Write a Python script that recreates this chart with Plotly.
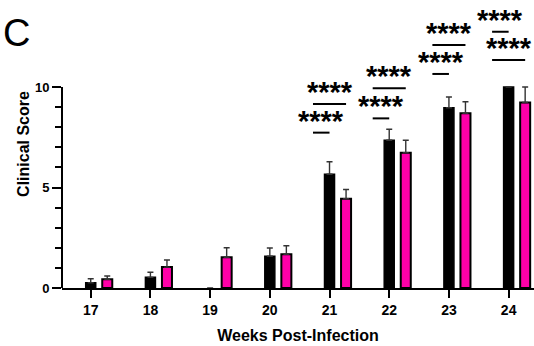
import plotly.graph_objects as go

weeks = [17, 18, 19, 20, 21, 22, 23, 24]
control_mean = [0, 0, 0, 0, 0, 0, 0, 0]
black_mean = [0.26, 0.53, 0.0, 1.58, 5.66, 7.35, 8.97, 10.0]
black_err_top = [0.46, 0.78, 0.0, 1.99, 6.28, 7.90, 9.50, 10.0]
pink_mean = [0.43, 1.04, 1.53, 1.68, 4.44, 6.73, 8.69, 9.23]
pink_err_top = [0.60, 1.39, 2.00, 2.10, 4.90, 7.35, 9.27, 10.0]

black_err = [(t - m) if t - m > 0 else None for t, m in zip(black_err_top, black_mean)]
pink_err = [(t - m) if t - m > 0 else None for t, m in zip(pink_err_top, pink_mean)]

# significance comparisons: (week, compared group, bracket level)
sig_weeks = [21, 21, 22, 22, 23, 23, 24, 24]
sig_target = ["black", "pink", "black", "pink", "black", "pink", "black", "pink"]
sig_level = [7.73, 9.15, 8.44, 9.94, 10.65, 12.09, 12.75, 11.34]
sig_label = "****"

y_ticks = [0, 5, 10]
y_minor = [1, 2, 3, 4, 6, 7, 8, 9]

GROUP_STEP = 0.277  # spacing between group centers in x units

fig = go.Figure()
fig.add_trace(go.Bar(x=weeks, y=control_mean, name="Control",
                     marker=dict(color="white", line=dict(width=0)),
                     showlegend=False))
fig.add_trace(go.Bar(x=weeks, y=black_mean, name="Group 1",
                     marker=dict(color="black",
                                 line=dict(color="black",
                                           width=[1.5 if v > 0 else 0 for v in black_mean])),
                     error_y=dict(type="data", symmetric=False, array=black_err,
                                  arrayminus=[0] * len(weeks), color="#333333",
                                  thickness=1.4, width=3),
                     cliponaxis=False, showlegend=False))
fig.add_trace(go.Bar(x=weeks, y=pink_mean, name="Group 2",
                     marker=dict(color="#ff00a8",
                                 line=dict(color="black",
                                           width=[2 if v > 0 else 0 for v in pink_mean])),
                     error_y=dict(type="data", symmetric=False, array=pink_err,
                                  arrayminus=[0] * len(weeks), color="#333333",
                                  thickness=1.4, width=3),
                     cliponaxis=False, showlegend=False))

shapes = []
annotations = []
# y axis line from 0 to 10
shapes.append(dict(type="line", xref="x domain", yref="y", x0=0, x1=0, y0=0, y1=10,
                   line=dict(color="black", width=2)))

for w, tgt, lvl in zip(sig_weeks, sig_target, sig_level):
    x0 = w - GROUP_STEP
    x1 = w if tgt == "black" else w + GROUP_STEP
    shapes.append(dict(type="line", xref="x", yref="y", x0=x0, x1=x1, y0=lvl, y1=lvl,
                       line=dict(color="black", width=2)))
    annotations.append(dict(x=(x0 + x1) / 2, y=lvl, xref="x", yref="y", text=sig_label,
                            showarrow=False, yanchor="bottom", yshift=-6,
                            font=dict(family="Liberation Sans", size=29, color="black",
                                      weight="bold")))

annotations.append(dict(x=-0.13, y=0.887, xref="paper", yref="paper", text="C",
                        showarrow=False, xanchor="left", yanchor="middle",
                        font=dict(family="Liberation Sans", size=38, color="black")))

fig.update_layout(
    width=534, height=346,
    margin=dict(l=62, r=0, t=0, b=58),
    plot_bgcolor="white", paper_bgcolor="white",
    barmode="group", bargap=0.169, bargroupgap=0.394,
    font=dict(family="Liberation Sans", color="black"),
    shapes=shapes, annotations=annotations,
)

fig.update_xaxes(range=[16.519, 24.425], tickvals=weeks, ticks="outside", ticklen=8,
                 tickwidth=2, tickcolor="black", showline=True, linecolor="black",
                 linewidth=2, showgrid=False, zeroline=False, automargin=False,
                 tickfont=dict(size=14, weight="bold"),
                 title=dict(text="Weeks Post-Infection", font=dict(size=16, weight="bold"),
                            standoff=13))
fig.update_yaxes(range=[0, 14.33], tickvals=y_ticks, ticks="outside", ticklen=9,
                 tickwidth=2, tickcolor="black", showline=False, showgrid=False,
                 zeroline=False, automargin=False, tickfont=dict(size=13, weight="bold"),
                 minor=dict(tickvals=y_minor, ticks="outside", ticklen=6, tickwidth=2,
                            tickcolor="black", showgrid=False),
                 title=dict(text="Clinical Score", font=dict(size=16, weight="bold"),
                            standoff=1))

fig.write_html("out.html", post_script="document.body.style.margin='0px';",
               config={"displayModeBar": False})
